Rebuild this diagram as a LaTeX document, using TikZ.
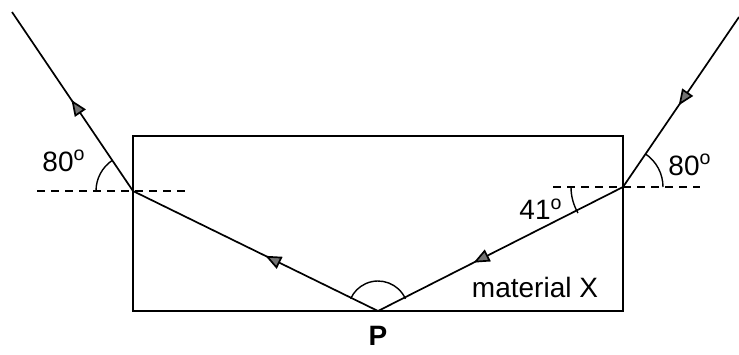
\documentclass[tikz,border=0pt]{standalone}
\usepackage{fontspec}
\setmainfont{Liberation Sans}
\usetikzlibrary{arrows.meta, decorations.markings}

\begin{document}
\begin{tikzpicture}[
      x=0.5pt, y=-0.5pt,
      ray/.style={line width=0.85pt},
      normal/.style={dashed, line width=0.7pt, dash pattern=on 4pt off 3pt},
      angarc/.style={line width=0.7pt},
      label/.style={font=\fontsize{14}{16}\selectfont, inner sep=0pt},
      tip/.tip={Triangle[length=8pt, width=6.5pt, fill=black!55]},
      arrowat/.style={postaction={decorate, decoration={markings, mark=at position #1 with {\arrow{tip}}}}}
    ]
    \useasboundingbox (0,0) rectangle (739,354);
    % block of material X
    \draw[line width=0.7pt] (133,136) rectangle (623,311);
    \coordinate (A) at (12,12);
    \coordinate (L) at (133,191);
    \coordinate (P) at (378,311);
    \coordinate (R) at (623,187);
    \coordinate (B) at (739,17);

    % normals
    \draw[normal] (37,191) -- (L) -- (185,191);
    \draw[normal] (553,187) -- (R) -- (700,187);

    % light path
    \draw[ray, arrowat=0.52] (B) -- (R);
    \draw[ray, arrowat=0.61] (R) -- (P);
    \draw[ray, arrowat=0.46] (P) -- (L);
    \draw[ray, arrowat=0.51] (L) -- (A);

    % angles (y points down)
    \draw[angarc] (L) ++(180:37) arc[start angle=180, end angle=236, radius=37];
    \draw[angarc] (R) ++(0:40) arc[start angle=0, end angle=-56, radius=40];
    \draw[angarc] (R) ++(180:52) arc[start angle=180, end angle=150, radius=52];
    \draw[angarc] (P) ++(-24:30) arc[start angle=-24, end angle=-156, radius=30];

    \node[label] (angL) at (64,161) {80\textsuperscript{o}};
    \node[label] (angR) at (690,165) {80\textsuperscript{o}};
    \node[label] (angX) at (541,209) {41\textsuperscript{o}};
    \node[label] (mat) at (535,287) {material X};
    \node[label, font=\fontsize{14}{16}\selectfont\bfseries] (labP) at (378,336) {P};
  \end{tikzpicture}
\end{document}
